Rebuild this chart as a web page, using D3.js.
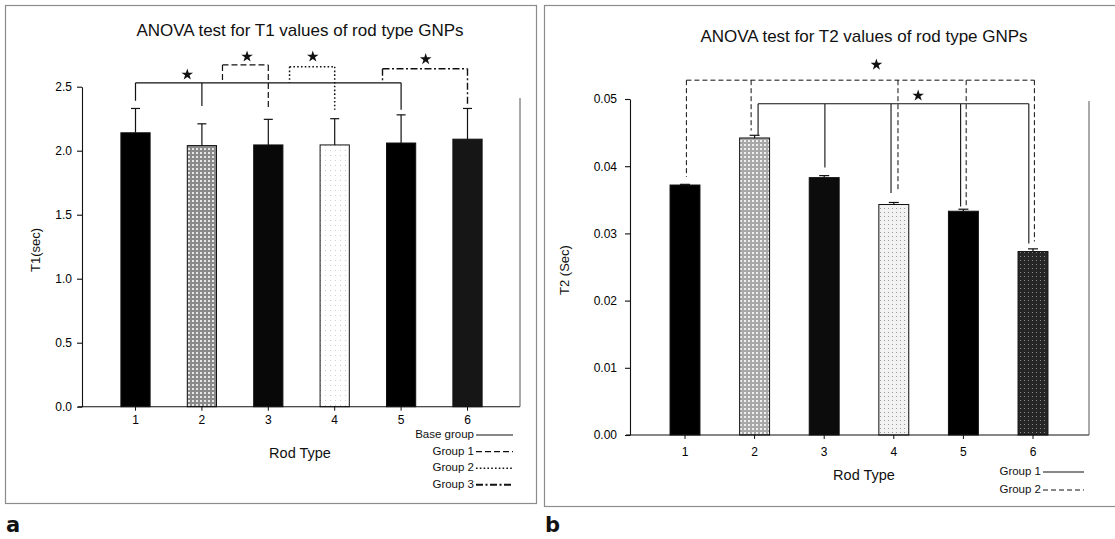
<!DOCTYPE html>
<html>
<head>
<meta charset="utf-8">
<script src="https://cdn.jsdelivr.net/npm/d3@7"></script>
<style>
  html, body { margin: 0; padding: 0; background: #fff; }
  svg { display: block; font-family: "Liberation Sans", Arial, sans-serif; }
</style>
</head>
<body>
<svg id="chart" width="1115" height="539"></svg>
<script>
// ---------------- data ----------------
const categories = ["1", "2", "3", "4", "5", "6"];

const t1Means = [2.14, 2.04, 2.045, 2.045, 2.06, 2.09];
const t1Errors = [0.19, 0.17, 0.20, 0.205, 0.22, 0.24];
const t1Ticks = [0, 0.5, 1.0, 1.5, 2.0, 2.5];

const t2Means = [0.0372, 0.0442, 0.0383, 0.0343, 0.0333, 0.0273];
const t2Errors = [0.0001, 0.0004, 0.0003, 0.0003, 0.0003, 0.0004];
const t2Ticks = [0, 0.01, 0.02, 0.03, 0.04, 0.05];

// comparison brackets: level (value), horizontal span (category index), legs [index, bottom value], star [index, value]
const t1Brackets = [
  { name: "Base group", level: 2.53, from: 1, to: 5, legs: [[1, 2.39], [2, 2.35], [5, 2.32]], star: [1.78, 2.595] },
  { name: "Group 1", level: 2.67, from: 2.31, to: 3, legs: [[2.31, 2.53], [3, 2.34]], star: [2.68, 2.735] },
  { name: "Group 2", level: 2.656, from: 3.32, to: 4, legs: [[3.32, 2.53], [4, 2.32]], star: [3.67, 2.735] },
  { name: "Group 3", level: 2.64, from: 4.72, to: 6, legs: [[4.72, 2.55], [6, 2.36]], star: [5.37, 2.715] }
];
const t2Brackets = [
  { name: "Group 1", level: 0.0493, from: 2.05, to: 5.94,
    legs: [[2.05, 0.0446], [3.01, 0.0398], [3.96, 0.036], [4.96, 0.034], [5.94, 0.0285]], star: [4.35, 0.0505] },
  { name: "Group 2", level: 0.0528, from: 1.02, to: 6.02,
    legs: [[1.02, 0.0384], [1.95, 0.0453], [4.06, 0.0365], [5.04, 0.0341], [6.02, 0.0288]], star: [3.75, 0.0551] }
];
const t1Legend = ["Base group", "Group 1", "Group 2", "Group 3"];
const t2Legend = ["Group 1", "Group 2"];

// ---------------- drawing ----------------
const svg = d3.select("#chart");
const ink = "#111";

// patterns
const defs = svg.append("defs");
function pattern(id, bg, dot, size, dotSize) {
  const p = defs.append("pattern").attr("id", id).attr("patternUnits", "userSpaceOnUse")
    .attr("width", size).attr("height", size);
  p.append("rect").attr("width", size).attr("height", size).attr("fill", bg);
  p.append("rect").attr("x", 0).attr("y", 0).attr("width", dotSize).attr("height", dotSize).attr("fill", dot);
}
pattern("gridMid", "#8a8a8a", "#e6e6e6", 4, 2);
pattern("gridLight", "#a8a8a8", "#f0f0f0", 4, 2);
pattern("dotsWhite", "#ffffff", "#cfcfcf", 5, 1);
pattern("dotsLight", "#f2f2f2", "#9a9a9a", 4, 1);
pattern("darkGrid", "#262626", "#8a8a8a", 4, 1);

const t1Fills = ["#000", "url(#gridMid)", "#080808", "url(#dotsWhite)", "#000", "#161616"];
const t2Fills = ["#000", "url(#gridLight)", "#0c0c0c", "url(#dotsLight)", "#000", "url(#darkGrid)"];

// panel frames
svg.append("rect").attr("x", 5.5).attr("y", 5.5).attr("width", 531).attr("height", 498)
  .attr("fill", "none").attr("stroke", "#8c8c8c").attr("stroke-width", 1.2);
svg.append("rect").attr("x", 544.5).attr("y", 5.5).attr("width", 600).attr("height", 501)
  .attr("fill", "none").attr("stroke", "#8c8c8c").attr("stroke-width", 1.2);

svg.append("text").attr("x", 6).attr("y", 532).attr("font-family", "'DejaVu Sans', sans-serif")
  .attr("font-weight", "bold").attr("font-size", 21).attr("fill", ink).text("a");
svg.append("text").attr("x", 545).attr("y", 532).attr("font-family", "'DejaVu Sans', sans-serif")
  .attr("font-weight", "bold").attr("font-size", 21).attr("fill", ink).text("b");

function drawPanel(cfg) {
  const g = svg.append("g");
  const x = d3.scaleBand().domain(categories).range(cfg.xRange).padding(0);
  const step = x.step();
  const xi = i => x(categories[0]) + step * (i - 1) + step / 2;
  const y = d3.scaleLinear().domain(cfg.yDomain).range(cfg.yRange);
  const barW = step * cfg.barFrac;

  // title
  g.append("text").attr("x", cfg.titleX).attr("y", cfg.titleY).attr("text-anchor", "middle")
    .attr("font-size", 17).attr("fill", ink).text(cfg.title);

  // y axis
  const ya = g.append("g").attr("transform", `translate(${cfg.axisX},0)`)
    .call(d3.axisLeft(y).tickValues(cfg.ticks).tickFormat(d3.format(cfg.fmt))
      .tickSize(5).tickSizeOuter(0).tickPadding(cfg.yPad));
  ya.selectAll("path,line").attr("stroke", ink).attr("stroke-width", 1.1);
  ya.selectAll("text").attr("font-size", 12).attr("fill", "#000")
    .attr("font-family", "'Liberation Sans', Arial, sans-serif");

  // y label
  g.append("text").attr("transform", `translate(${cfg.yLabelX},${cfg.yLabelY}) rotate(-90)`)
    .attr("text-anchor", "middle").attr("font-size", 13).attr("fill", ink).text(cfg.yLabel);

  // bars
  g.selectAll("rect.bar").data(cfg.means).enter().append("rect").attr("class", "bar")
    .attr("x", (d, i) => x(categories[i]) + step / 2 - barW / 2)
    .attr("y", d => y(d)).attr("width", barW).attr("height", d => y(0) - y(d))
    .attr("fill", (d, i) => cfg.fills[i]).attr("stroke", ink).attr("stroke-width", 1);

  // error bars (upper only)
  cfg.means.forEach((m, i) => {
    const cx = x(categories[i]) + step / 2;
    const top = y(m + cfg.errors[i]);
    g.append("line").attr("x1", cx).attr("x2", cx).attr("y1", y(m)).attr("y2", top)
      .attr("stroke", ink).attr("stroke-width", 1.2);
    g.append("line").attr("x1", cx - cfg.cap / 2).attr("x2", cx + cfg.cap / 2).attr("y1", top).attr("y2", top)
      .attr("stroke", ink).attr("stroke-width", 1.2);
  });

  // x axis
  g.append("line").attr("x1", cfg.axisX - 4).attr("x2", cfg.frameX).attr("y1", y(0)).attr("y2", y(0))
    .attr("stroke", ink).attr("stroke-width", 1.1);
  const xa = g.append("g").attr("transform", `translate(0,${y(0)})`)
    .call(d3.axisBottom(x).tickSize(4).tickSizeOuter(0).tickPadding(cfg.xPad));
  xa.select(".domain").remove();
  xa.selectAll("line").attr("stroke", ink);
  xa.selectAll("text").attr("font-size", 12).attr("fill", "#000")
    .attr("font-family", "'Liberation Sans', Arial, sans-serif");

  // right frame line
  g.append("line").attr("x1", cfg.frameX).attr("x2", cfg.frameX).attr("y1", cfg.frameTop).attr("y2", y(0))
    .attr("stroke", "#555").attr("stroke-width", 1);

  // x label
  g.append("text").attr("x", cfg.xLabelX).attr("y", cfg.xLabelY).attr("text-anchor", "middle")
    .attr("font-size", 14.5).attr("fill", ink).text("Rod Type");

  // brackets
  cfg.brackets.forEach(b => {
    const st = cfg.styles[b.name];
    let d = `M${xi(b.from)},${y(b.level)}H${xi(b.to)}`;
    b.legs.forEach(([i, v]) => { d += `M${xi(i)},${y(b.level)}V${y(v)}`; });
    g.append("path").attr("d", d).attr("fill", "none").attr("stroke", ink)
      .attr("stroke-width", st.w).attr("stroke-dasharray", st.dash);
    g.append("path").attr("d", d3.symbol().type(d3.symbolStar).size(42)())
      .attr("transform", `translate(${xi(b.star[0])},${y(b.star[1])})`).attr("fill", ink);
  });

  // legend
  cfg.legend.forEach((name, k) => {
    const st = cfg.styles[name];
    const ly = cfg.legendY + k * cfg.legendGap;
    g.append("text").attr("x", cfg.legendTextX).attr("y", ly).attr("dy", "0.35em")
      .attr("text-anchor", "end").attr("font-size", 11.5).attr("fill", ink).text(name);
    g.append("line").attr("x1", cfg.legendTextX + 2).attr("x2", cfg.legendLineEnd).attr("y1", ly + 1).attr("y2", ly + 1)
      .attr("stroke", ink).attr("stroke-width", st.lw || st.w).attr("stroke-dasharray", st.dash);
  });
}

drawPanel({
  title: "ANOVA test for T1 values of rod type GNPs", titleX: 300, titleY: 36,
  xRange: [102.3, 500.7], yDomain: [0, 2.5], yRange: [406.7, 86.7],
  ticks: t1Ticks, fmt: ".1f", axisX: 82, yPad: 5, xPad: 5, frameX: 520, frameTop: 98,
  means: t1Means, errors: t1Errors, fills: t1Fills, barFrac: 0.44, cap: 9,
  yLabel: "T1(sec)", yLabelX: 40, yLabelY: 250, xLabelX: 300, xLabelY: 458,
  brackets: t1Brackets,
  styles: {
    "Base group": { dash: null, w: 1.2 },
    "Group 1": { dash: "6,3", w: 1.2 },
    "Group 2": { dash: "1.6,2.2", w: 1.5 },
    "Group 3": { dash: "7,2.5,2,2.5", w: 1.4, lw: 2 }
  },
  legend: t1Legend, legendY: 434, legendGap: 16.6, legendTextX: 474, legendLineEnd: 513
});

drawPanel({
  title: "ANOVA test for T2 values of rod type GNPs", titleX: 864, titleY: 42,
  xRange: [650.2, 1067.8], yDomain: [0, 0.05], yRange: [435, 99],
  ticks: t2Ticks, fmt: ".2f", axisX: 630, yPad: 8, xPad: 8, frameX: 1089, frameTop: 101,
  means: t2Means, errors: t2Errors, fills: t2Fills, barFrac: 0.43, cap: 10,
  yLabel: "T2 (Sec)", yLabelX: 569, yLabelY: 270, xLabelX: 864, xLabelY: 480,
  brackets: t2Brackets,
  styles: {
    "Group 1": { dash: null, w: 1.1 },
    "Group 2": { dash: "5,3", w: 1 }
  },
  legend: t2Legend, legendY: 471, legendGap: 18, legendTextX: 1041, legendLineEnd: 1084
});
</script>
</body>
</html>
